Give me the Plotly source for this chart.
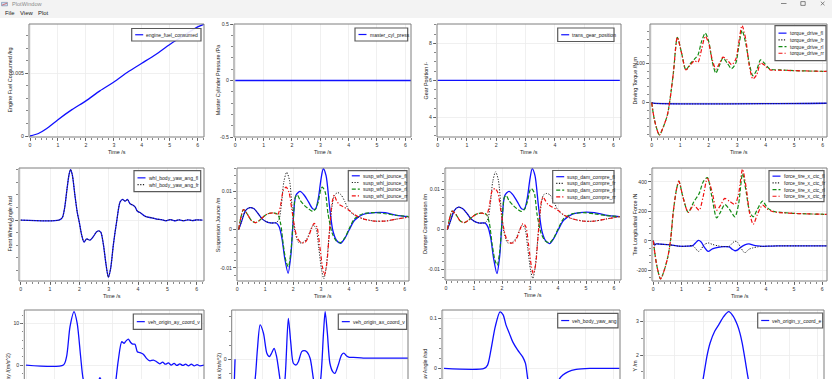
import plotly.graph_objects as go

W, H = 832, 379

# ---------------- data ----------------
time_ticks = [0, 1, 2, 3, 4, 5, 6]
time_tick_text = ["0", "1", "2", "3", "4", "5", "6"]

# P1 engine fuel
t_fuel = [0, 0.3, 0.6, 1.0, 1.5, 2.0, 2.5, 3.0, 3.5, 4.0, 4.5, 5.0, 5.5, 6.0, 6.22]
engine_fuel_consumed = [0, 0.0002, 0.0006, 0.0013, 0.0021, 0.0028, 0.0036, 0.0043, 0.0051,
                        0.0058, 0.0065, 0.0073, 0.0080, 0.0087, 0.0089]
# P2 / P3 constants
t_flat = [0, 6.22]
master_cyl_press = [0, 0]
trans_gear_position = [6, 6]

# P4 driving torque
t_torque = [0, 0.1, 0.27, 0.41, 0.55, 0.64, 0.76, 0.9, 1.05, 1.2, 1.35, 1.5, 1.62, 1.75, 1.88, 2.0,
            2.12, 2.25, 2.38, 2.5, 2.65, 2.8, 2.95, 3.05, 3.17, 3.3, 3.42, 3.55, 3.68, 3.82, 3.95,
            4.15, 4.5, 5.0, 5.5, 6.2]
torque_drive_rr = [0, -45, -82, -61, -31, 7, 75, 165, 125, 83, 95, 106, 102, 135, 168, 150, 110, 85,
                   100, 115, 108, 96, 110, 150, 195, 160, 95, 60, 70, 100, 95, 83, 82, 81, 80, 79]
torque_drive_rl = [0, -45, -82, -61, -31, 7, 75, 165, 125, 83, 98, 110, 120, 155, 176, 155, 105, 75,
                   95, 113, 100, 86, 100, 140, 183, 150, 100, 68, 82, 108, 100, 85, 83, 81, 80, 79]
t_torque_front = [0, 0.05, 6.2]
torque_drive_fl = [0, -1.5, -1.5]
torque_drive_fr = [0, -1.5, -1.5]

# P5 wheel angle
t_whl = [0, 1.3, 1.42, 1.5, 1.58, 1.65, 1.7, 1.76, 1.85, 1.93, 2.0, 2.08, 2.16, 2.25, 2.36, 2.48,
         2.58, 2.65, 2.73, 2.82, 2.91, 2.99, 3.07, 3.16, 3.27, 3.39, 3.48, 3.56, 3.64, 3.73, 3.82,
         3.9, 3.98, 4.07, 4.18, 4.3, 4.47, 4.64, 4.8, 4.95, 5.1, 5.25, 5.4, 5.55, 5.7, 5.85, 6.0, 6.2]
whl_body_yaw_ang_fl = [0, 0, 0.004, 0.02, 0.05, 0.073, 0.0805, 0.072, 0.039, 0.012, -0.004, -0.024,
                       -0.035, -0.03, -0.032, -0.026, -0.019, -0.017, -0.019, -0.039, -0.071, -0.091,
                       -0.076, -0.039, -0.003, 0.029, 0.033, 0.030, 0.033, 0.026, 0.024, 0.021, 0.014,
                       0.012, 0.008, 0.005, 0.0037, 0.0016, 0.0008, -0.001, 0.0008, -0.001, 0.0005,
                       -0.001, 0.0005, -0.0008, 0.0003, 0]
whl_body_yaw_ang_fr = [0, 0, 0.004, 0.02, 0.05, 0.073, 0.0805, 0.072, 0.039, 0.012, -0.004, -0.024,
                       -0.035, -0.03, -0.032, -0.026, -0.019, -0.017, -0.019, -0.039, -0.071, -0.091,
                       -0.076, -0.039, -0.003, 0.029, 0.033, 0.030, 0.033, 0.026, 0.024, 0.021, 0.014,
                       0.012, 0.008, 0.005, 0.0037, 0.0016, 0.0008, -0.001, 0.0008, -0.001, 0.0005,
                       -0.001, 0.0005, -0.0008, 0.0003, 0]

# P6 / P7 suspension
t_susp_fl = [0.05, 0.15, 0.3, 0.45, 0.6, 0.75, 0.9, 1.05, 1.2, 1.4, 1.5, 1.6, 1.7, 1.82, 1.92, 2.0,
             2.1, 2.25, 2.4, 2.55, 2.7, 2.8, 2.9, 3.0, 3.08, 3.18, 3.3, 3.42, 3.55, 3.7, 3.85, 4.0,
             4.2, 4.5, 4.9, 5.3, 5.7, 6.2]
t_susp_fr = [0.05, 0.15, 0.3, 0.45, 0.6, 0.75, 0.9, 1.05, 1.2, 1.4, 1.5, 1.58, 1.67, 1.77, 1.87,
             1.97, 2.07, 2.2, 2.35, 2.5, 2.62, 2.72, 2.82, 2.92, 3.02, 3.1, 3.18, 3.28, 3.38, 3.48,
             3.6, 3.72, 3.85, 4.0, 4.2, 4.5, 4.9, 5.3, 5.7, 6.2]
t_susp_rl = [0.05, 0.12, 0.22, 0.35, 0.5, 0.65, 0.8, 0.95, 1.1, 1.3, 1.45, 1.55, 1.65, 1.75, 1.83,
             1.92, 2.0, 2.08, 2.15, 2.25, 2.4, 2.55, 2.7, 2.8, 2.9, 3.0, 3.05, 3.15, 3.25, 3.4, 3.55,
             3.7, 3.85, 4.0, 4.2, 4.5, 4.9, 5.3, 5.7, 6.2]
t_susp_rr = [0.05, 0.12, 0.22, 0.35, 0.5, 0.65, 0.8, 0.95, 1.1, 1.3, 1.45, 1.55, 1.65, 1.75, 1.85,
             1.95, 2.05, 2.15, 2.28, 2.42, 2.55, 2.65, 2.75, 2.85, 2.95, 3.05, 3.12, 3.2, 3.3, 3.4,
             3.47, 3.55, 3.65, 3.8, 4.0, 4.2, 4.5, 4.9, 5.3, 5.7, 6.2]
susp_whl_jounce_fl = [0, 0.002, 0.005, 0.0057, 0.0054, 0.0041, 0.0027, 0.002, 0.0017, 0.0017, 0.0007,
                      -0.0023, -0.0075, -0.0114, -0.0066, 0.002, 0.0089, 0.0099, 0.0089, 0.0072,
                      0.0054, 0.0053, 0.008, 0.0132, 0.0158, 0.014, 0.0063, -0.0002, -0.0028,
                      -0.0036, -0.0023, -0.0002, 0.0024, 0.0039, 0.0044, 0.0044, 0.0037, 0.0033]
susp_whl_jounce_fr = [0, 0.002, 0.005, 0.0057, 0.0054, 0.0041, 0.0027, 0.002, 0.0017, 0.0018, 0.0028,
                      0.0065, 0.0125, 0.0149, 0.0128, 0.0054, -0.0006, -0.0034, -0.0034, -0.0023,
                      -0.0002, 0.0011, 0.0003, -0.0049, -0.0105, -0.0128, -0.0101, -0.0023, 0.0054,
                      0.0089, 0.0096, 0.009, 0.0073, 0.005, 0.0037, 0.0028, 0.0022, 0.0022, 0.0027,
                      0.0033]
susp_whl_jounce_rl = [0, 0.0028, 0.0052, 0.0041, 0.0024, 0.0018, 0.0024, 0.0034, 0.0041, 0.0043,
                      0.0039, 0.0016, -0.0041, -0.0084, -0.0097, -0.0058, 0.002, 0.0084, 0.009, 0.0076,
                      0.0063, 0.0054, 0.0047, 0.0053, 0.0072, 0.0106, 0.011, 0.0097, 0.0041, -0.001,
                      -0.003, -0.0034, -0.0022, 0.0001, 0.0028, 0.0041, 0.0044, 0.0041, 0.0037, 0.0033]
susp_whl_jounce_rr = [0, 0.0028, 0.0052, 0.0041, 0.0024, 0.0018, 0.0024, 0.0034, 0.0041, 0.0043,
                      0.0039, 0.0063, 0.0102, 0.011, 0.0097, 0.0054, 0.0007, -0.0022, -0.0034,
                      -0.0034, -0.0019, 0.0001, 0.0016, 0.0007, -0.0041, -0.0097, -0.0118, -0.0092,
                      -0.0006, 0.0072, 0.0089, 0.0076, 0.0065, 0.0059, 0.005, 0.0039, 0.0028, 0.0022,
                      0.0022, 0.0027, 0.0033]
susp_dam_compre_fl = [0, 0.0019, 0.0048, 0.0056, 0.0052, 0.004, 0.0026, 0.0019, 0.0016, 0.0016, 0.0006,
                      -0.0022, -0.0072, -0.011, -0.0064, 0.0019, 0.0085, 0.0095, 0.0086, 0.0069,
                      0.0052, 0.0051, 0.0077, 0.0127, 0.0152, 0.0134, 0.006, -0.0002, -0.0027,
                      -0.0035, -0.0022, -0.0002, 0.0023, 0.0038, 0.0043, 0.0042, 0.0036, 0.0032]
susp_dam_compre_fr = [0, 0.0019, 0.0048, 0.0056, 0.0052, 0.004, 0.0026, 0.0019, 0.0016, 0.0017, 0.0027,
                      0.0062, 0.012, 0.0144, 0.0123, 0.0052, -0.0006, -0.0033, -0.0033, -0.0022,
                      -0.0002, 0.0011, 0.0003, -0.0047, -0.0101, -0.0122, -0.0097, -0.0022, 0.0052,
                      0.0086, 0.009, 0.0086, 0.007, 0.0048, 0.0036, 0.0027, 0.0021, 0.0021, 0.0026,
                      0.0032]
susp_dam_compre_rl = [0, 0.0025, 0.0046, 0.0038, 0.0022, 0.0017, 0.0023, 0.0032, 0.0039, 0.0041,
                      0.0037, 0.0015, -0.0038, -0.0077, -0.0089, -0.0054, 0.0019, 0.0079, 0.0085,
                      0.0072, 0.006, 0.0051, 0.0045, 0.005, 0.0068, 0.0098, 0.0102, 0.0092, 0.0039,
                      -0.001, -0.0029, -0.0033, -0.0021, 0.0001, 0.0027, 0.0039, 0.0042, 0.0039,
                      0.0035, 0.0032]
susp_dam_compre_rr = [0, 0.0025, 0.0046, 0.0038, 0.0022, 0.0017, 0.0023, 0.0032, 0.0039, 0.0041,
                      0.0037, 0.006, 0.0097, 0.0102, 0.0092, 0.0051, 0.0007, -0.0021, -0.0033,
                      -0.0033, -0.0018, 0.0001, 0.0015, 0.0007, -0.0039, -0.0092, -0.011, -0.0088,
                      -0.0006, 0.0068, 0.0081, 0.0072, 0.0062, 0.0056, 0.0048, 0.0037, 0.0027, 0.0021,
                      0.0021, 0.0026, 0.0032]

# P8 longitudinal tire force
t_force_rear = [0, 0.12, 0.26, 0.41, 0.53, 0.62, 0.71, 0.83, 0.91, 1.05, 1.24, 1.44, 1.63, 1.77, 1.92,
                2.08, 2.25, 2.4, 2.54, 2.7, 2.9, 3.03, 3.17, 3.3, 3.42, 3.55, 3.7, 3.88, 4.05, 4.26,
                4.6, 5.0, 5.5, 6.2]
force_tire_x_ctc_rr = [0, -165, -260, -188, -97, 16, 197, 355, 405, 300, 193, 242, 208, 300, 424, 340,
                       208, 245, 288, 270, 247, 320, 487, 360, 190, 111, 180, 242, 215, 197, 190, 186,
                       183, 179]
force_tire_x_ctc_rl = [0, -165, -260, -188, -97, 16, 197, 355, 405, 300, 193, 265, 322, 400, 430, 300,
                       156, 200, 247, 215, 163, 250, 457, 330, 200, 163, 215, 270, 225, 200, 192, 186,
                       183, 179]
t_force_front = [0, 0.05, 0.1, 0.3, 0.6, 0.9, 1.2, 1.4, 1.5, 1.6, 1.7, 1.8, 1.95, 2.1, 2.3, 2.5, 2.7,
                 2.8, 2.9, 3.0, 3.1, 3.25, 3.4, 3.55, 3.7, 3.9, 4.2, 4.6, 5.0, 5.5, 6.2]
force_tire_x_ctc_fl = [0, -30, -22, -24, -28, -37, -37, -33, -15, 2, -8, -40, -72, -55, -45, -40, -42,
                       -58, -68, -62, -45, -28, -22, -30, -35, -38, -36, -35, -35, -35, -35]
force_tire_x_ctc_fr = [0, -30, -22, -24, -28, -37, -37, -33, -52, -73, -58, -28, -15, -25, -35, -40,
                       -38, -18, -3, -12, -45, -82, -58, -48, -42, -38, -36, -35, -35, -35, -35]

# P9 lateral acceleration
t_ay = [0, 1.3, 1.41, 1.53, 1.67, 1.78, 1.9, 1.99, 2.08, 2.2, 2.35, 2.5, 2.57, 2.65, 2.75, 2.85, 2.95,
        3.03, 3.13, 3.21, 3.33, 3.41, 3.48, 3.56, 3.64, 3.71, 3.79, 3.87, 3.96, 4.08, 4.19, 4.31,
        4.43, 4.54, 4.65, 4.75, 4.85, 4.95, 5.05, 5.15, 5.25, 5.35, 5.45, 5.55, 5.65, 5.75, 5.85,
        5.95, 6.05, 6.2]
veh_origin_ay_coord_v = [0, 0, 2, 9.2, 12.8, 10, 2, -3.4, -4.8, -5.5, -5, -4.2, -3, -4.5, -8.5, -12,
                         -12.8, -9, -3.4, 1.2, 5.6, 5.2, 5.8, 6.2, 5.4, 5.0, 5.0, 3.2, 3.0, 2.6, 1.6,
                         1.0, 1.2, 0.8, 0.3, 0.7, 0.2, 0.5, 0.0, 0.4, -0.1, 0.3, -0.1, 0.2, -0.2, 0.2,
                         -0.2, 0.1, -0.2, 0]
# P10 longitudinal acceleration
t_ax = [0, 0.02, 0.3, 0.6, 0.72, 0.8, 0.9, 1.02, 1.14, 1.23, 1.31, 1.4, 1.49, 1.61, 1.7, 1.79, 1.91,
        2.0, 2.09, 2.19, 2.27, 2.39, 2.47, 2.57, 2.69, 2.81, 2.93, 3.07, 3.17, 3.23, 3.31, 3.4, 3.5,
        3.58, 3.7, 3.82, 3.9, 4.0, 4.1, 4.24, 4.6, 5.2, 6.2]
veh_origin_ax_coord_v = [0, -4.0, -3.2, -2.6, -1.4, 0.66, 2.43, 1.84, 0.43, 0.19, 0.43, 0.78, 0.19,
                         -1.4, -2.4, -1.4, 2.9, 1.13, -0.28, -0.4, -0.17, 0.54, 0.61, 0.54, 0.07,
                         -1.4, -2.8, -1.4, 1.84, 3.38, 1.84, -0.28, -0.87, -1.0, -0.4, 0.31, 0.43,
                         0.24, 0.14, 0.14, 0.09, 0.09, 0.09]
# P11 yaw angle
t_yaw = [0, 1.42, 1.54, 1.66, 1.81, 1.98, 2.09, 2.19, 2.31, 2.43, 2.6, 2.78, 2.88, 2.96, 3.1, 3.3,
         3.5, 3.7, 3.9, 4.08, 4.2, 4.38, 4.67, 5.15, 6.2]
veh_body_yaw_ang = [0, 0, 0.0067, 0.037, 0.083, 0.113, 0.107, 0.087, 0.07, 0.053, 0.037, 0.023, 0.01,
                    -0.021, -0.06, -0.09, -0.098, -0.085, -0.05, -0.021, -0.013, -0.0067, -0.002, 0, 0]
# P12 lateral position
t_y = [0, 1.4, 1.6, 1.8, 2.0, 2.13, 2.24, 2.4, 2.54, 2.72, 2.89, 3.05, 3.19, 3.28, 3.36, 3.48, 3.57,
       3.75, 4.0, 4.3, 4.7, 5.2, 6.2]
veh_origin_y_coord_e = [0, 0, 0.1, 0.5, 1.31, 1.97, 2.36, 2.71, 2.9, 3.15, 3.29, 3.15, 2.9, 2.66,
                        2.36, 1.77, 1.31, 0.7, 0.25, 0.08, 0.02, 0, 0]

# ---------------- styling ----------------
FONT = "Liberation Sans"
STY = {
    "fl": dict(color="#1010ff", dash="solid", width=1.3),
    "fr": dict(color="#222222", dash="1.2px,1.5px", width=1.0),
    "rl": dict(color="#128a12", dash="4px,2px", width=1.2),
    "rr": dict(color="#f01010", dash="4px,2px,1.2px,2px", width=1.2),
}
GRID = "#ececec"
FRAME = "#7e7e7e"
TICKC = "#555555"

PANELS = [
    dict(frame=(29, 204, 24, 137), xr=(-0.036, 6.225), yr=(-0.00008, 0.00893),
         yt=[0, 0.005], ytt=["0", "0.005"], ym=0.001, ytitle="Engine Fuel Consumed /kg", ytx=9,
         leg=(131.7, 201, 28.5, 41),
         series=[(t_fuel, engine_fuel_consumed, "engine_fuel_consumed", "fl")]),
    dict(frame=(234, 411, 24, 137), xr=(-0.046, 6.2), yr=(-0.5, 0.5),
         yt=[-0.5, 0, 0.5], ytt=["-0.5", "0", "0.5"], ym=0.1, ytitle="Master Cylinder Pressure /Pa",
         ytx=217.7, leg=(355, 407.7, 28, 41),
         series=[(t_flat, master_cyl_press, "master_cyl_press", "fl")]),
    dict(frame=(437, 621, 24, 137), xr=(-0.024, 6.26), yr=(2.94, 9.04),
         yt=[4, 6, 8], ytt=["4", "6", "8"], ym=0.5, ytitle="Gear Position /-", ytx=425,
         leg=(557.7, 614, 28, 41.5),
         series=[(t_flat, trans_gear_position, "trans_gear_position", "fl")]),
    dict(frame=(650, 827, 24, 137), xr=(-0.06, 6.15), yr=(-87, 199),
         yt=[0, 100], ytt=["0", "100"], ym=20, ytitle="Driving Torque /N.m", ytx=634,
         leg=(775, 826, 25.7, 60.7),
         series=[(t_torque_front, torque_drive_fl, "torque_drive_fl", "fl"),
                 (t_torque_front, torque_drive_fr, "torque_drive_fr", "fr"),
                 (t_torque, torque_drive_rl, "torque_drive_rl", "rl"),
                 (t_torque, torque_drive_rr, "torque_drive_rr", "rr")]),
    dict(frame=(19, 204, 168, 281), xr=(-0.058, 6.25), yr=(-0.097, 0.083),
         yt=[0], ytt=["0"], ym=0.02, ytitle="Front Wheel Angle /rad", ytx=9,
         leg=(134, 200.7, 170.7, 191.7),
         series=[(t_whl, whl_body_yaw_ang_fl, "whl_body_yaw_ang_fl", "fl"),
                 (t_whl, whl_body_yaw_ang_fr, "whl_body_yaw_ang_fr", "fr")]),
    dict(frame=(237, 409, 168, 281), xr=(-0.01, 6.15), yr=(-0.0134, 0.016),
         yt=[-0.01, 0, 0.01], ytt=["-0.01", "0", "0.01"], ym=0.002, ytitle="Suspension Jounce /m",
         ytx=217.7, leg=(348.3, 407, 170.7, 201),
         series=[(t_susp_fl, susp_whl_jounce_fl, "susp_whl_jounce_fl", "fl"),
                 (t_susp_fr, susp_whl_jounce_fr, "susp_whl_jounce_fr", "fr"),
                 (t_susp_rl, susp_whl_jounce_rl, "susp_whl_jounce_rl", "rl"),
                 (t_susp_rr, susp_whl_jounce_rr, "susp_whl_jounce_rr", "rr")]),
    dict(frame=(445, 621, 168, 280), xr=(-0.036, 6.25), yr=(-0.0126, 0.01535),
         yt=[-0.01, 0, 0.01], ytt=["-0.01", "0", "0.01"], ym=0.002, ytitle="Damper Compression /m",
         ytx=425, leg=(552.7, 614, 170.5, 203),
         series=[(t_susp_fl, susp_dam_compre_fl, "susp_dam_compre_fl", "fl"),
                 (t_susp_fr, susp_dam_compre_fr, "susp_dam_compre_fr", "fr"),
                 (t_susp_rl, susp_dam_compre_rl, "susp_dam_compre_rl", "rl"),
                 (t_susp_rr, susp_dam_compre_rr, "susp_dam_compre_rr", "rr")]),
    dict(frame=(652, 827, 168, 281), xr=(-0.046, 6.17), yr=(-274, 495),
         yt=[-200, 0, 200, 400], ytt=["-200", "0", "200", "400"], ym=50,
         ytitle="Tire Longitudinal Force /N", ytx=634, leg=(769, 824, 170.7, 201.7),
         series=[(t_force_front, force_tire_x_ctc_fl, "force_tire_x_ctc_fl", "fl"),
                 (t_force_front, force_tire_x_ctc_fr, "force_tire_x_ctc_fr", "fr"),
                 (t_force_rear, force_tire_x_ctc_rl, "force_tire_x_ctc_rl", "rl"),
                 (t_force_rear, force_tire_x_ctc_rr, "force_tire_x_ctc_rr", "rr")]),
    dict(frame=(24.3, 204, 310, 423), xr=(-0.06, 6.19), yr=(-13.9, 13.2),
         yt=[-10, 0, 10], ytt=["-10", "0", "10"], ym=2, ytitle="ay /(m/s^2)", ytx=7.3,
         leg=(133.3, 201.7, 314, 329.3),
         series=[(t_ay, veh_origin_ay_coord_v, "veh_origin_ay_coord_v", "fl")]),
    dict(frame=(231.7, 408, 310, 423), xr=(-0.12, 6.2), yr=(-4.51, 3.49),
         yt=[0], ytt=["0"], ym=1, ytitle="ax /(m/s^2)", ytx=218,
         leg=(338.3, 406.7, 314, 329.3),
         series=[(t_ax, veh_origin_ax_coord_v, "veh_origin_ax_coord_v", "fl")]),
    dict(frame=(442, 620, 310, 423), xr=(-0.07, 6.22), yr=(-0.109, 0.1167),
         yt=[-0.1, 0, 0.1], ytt=["-0.1", "0", "0.1"], ym=0.02, ytitle="Yaw Angle /rad", ytx=424,
         leg=(557.7, 618, 313.3, 327.8),
         series=[(t_yaw, veh_body_yaw_ang, "veh_body_yaw_ang", "fl")]),
    dict(frame=(644, 824, 310, 423), xr=(-0.07, 6.22), yr=(-0.02, 3.34),
         yt=[0, 1, 2, 3], ytt=["0", "1", "2", "3"], ym=0.5, ytitle="Y /m", ytx=634,
         leg=(757.7, 822.7, 313, 328),
         series=[(t_y, veh_origin_y_coord_e, "veh_origin_y_coord_e", "fl")]),
]


def X(p):
    return p / W


def Y(p):
    return 1 - p / H


fig = go.Figure()
layout = dict(width=W, height=H, margin=dict(l=0, r=0, t=0, b=0), template="none",
              paper_bgcolor="white", plot_bgcolor="white", showlegend=False,
              font=dict(family=FONT, size=5.2, color="#333333"))
shapes = []
annotations = []

# window chrome: title bar + menu bar
shapes.append(dict(type="rect", xref="paper", yref="paper", x0=0, x1=1, y0=Y(18), y1=1,
                   line=dict(width=0), fillcolor="#f3f3f3", layer="above"))
shapes.append(dict(type="rect", xref="paper", yref="paper", x0=X(1.5), x1=X(7.5), y0=Y(5.8), y1=Y(2.4),
                   line=dict(width=0.6, color="#6f86a8"), fillcolor="#cfdcef", layer="above"))
shapes.append(dict(type="line", xref="paper", yref="paper", x0=X(2), x1=X(7), y0=Y(5.2), y1=Y(3.2),
                   line=dict(width=0.7, color="#d04040"), layer="above"))
annotations.append(dict(text="PlotWindow", x=X(9.5), y=Y(4.3), xref="paper", yref="paper",
                        xanchor="left", yanchor="middle", showarrow=False,
                        font=dict(family=FONT, size=5.6, color="#8c8c8c")))
for label, xpos in [("File", 3.3), ("View", 18), ("Plot", 36)]:
    annotations.append(dict(text=label, x=X(xpos), y=Y(13.4), xref="paper", yref="paper",
                            xanchor="left", yanchor="middle", showarrow=False,
                            font=dict(family=FONT, size=5.9, color="#1a1a1a")))
# window controls
shapes.append(dict(type="line", xref="paper", yref="paper", x0=X(781), x1=X(786.5), y0=Y(3.5), y1=Y(3.5),
                   line=dict(width=0.7, color="#555"), layer="above"))
shapes.append(dict(type="rect", xref="paper", yref="paper", x0=X(800.8), x1=X(805.2), y0=Y(5.4), y1=Y(1.6),
                   line=dict(width=0.7, color="#555"), layer="above"))
shapes.append(dict(type="line", xref="paper", yref="paper", x0=X(820.8), x1=X(824.5), y0=Y(1.7), y1=Y(5.3),
                   line=dict(width=0.7, color="#555"), layer="above"))
shapes.append(dict(type="line", xref="paper", yref="paper", x0=X(820.8), x1=X(824.5), y0=Y(5.3), y1=Y(1.7),
                   line=dict(width=0.7, color="#555"), layer="above"))

for i, p in enumerate(PANELS, start=1):
    x0, x1, y0, y1 = p["frame"]
    ymin, ymax = p["yr"]
    clipped = y1 > H
    if clipped:
        vis_min = ymax - (ymax - ymin) * (H - y0) / (y1 - y0)
        dom_y = [0, Y(y0)]
        yrange = [vis_min, ymax]
    else:
        dom_y = [Y(y1), Y(y0)]
        yrange = [ymin, ymax]
    sfx = "" if i == 1 else str(i)
    layout["xaxis" + sfx] = dict(
        domain=[X(x0), X(x1)], range=list(p["xr"]), anchor="y" + sfx,
        tickmode="array", tickvals=time_ticks, ticktext=time_tick_text,
        ticks="" if clipped else "outside", ticklen=3, tickwidth=0.8, tickcolor=TICKC,
        showticklabels=not clipped, tickfont=dict(family=FONT, size=5.2, color="#333"),
        showgrid=True, gridcolor=GRID, gridwidth=0.8, zeroline=False, showline=False,
        fixedrange=True,
        minor=dict(tickmode="linear", tick0=0, dtick=0.2, ticks="" if clipped else "outside",
                   ticklen=1.6, tickwidth=0.7, tickcolor=TICKC, showgrid=False))
    layout["yaxis" + sfx] = dict(
        domain=dom_y, range=yrange, anchor="x" + sfx,
        tickmode="array", tickvals=p["yt"], ticktext=p["ytt"],
        ticks="outside", ticklen=3, tickwidth=0.8, tickcolor=TICKC,
        tickfont=dict(family=FONT, size=5.2, color="#333"),
        showgrid=True, gridcolor=GRID, gridwidth=0.8, zeroline=False, showline=False,
        fixedrange=True,
        minor=dict(tickmode="linear", tick0=0, dtick=p["ym"], ticks="outside",
                   ticklen=1.6, tickwidth=0.7, tickcolor=TICKC, showgrid=False))

    for (tx, ty, name, key) in p["series"]:
        st = STY[key]
        fig.add_trace(go.Scatter(x=tx, y=ty, name=name, mode="lines",
                                 xaxis="x" + sfx, yaxis="y" + sfx, hoverinfo="skip",
                                 line=dict(color=st["color"], dash=st["dash"], width=st["width"],
                                           shape="spline", smoothing=0.75)))

    # frame
    shapes.append(dict(type="rect", xref="paper", yref="paper", x0=X(x0), x1=X(x1),
                       y0=Y(y1), y1=Y(y0), line=dict(color=FRAME, width=1), layer="above"))
    # axis titles
    if not clipped:
        annotations.append(dict(text="Time /s", x=X((x0 + x1) / 2), y=Y(y1 + 15), xref="paper",
                                yref="paper", xanchor="center", yanchor="middle", showarrow=False,
                                font=dict(family=FONT, size=5.4, color="#222")))
    annotations.append(dict(text=p["ytitle"], x=X(p["ytx"]), y=Y((y0 + y1) / 2), xref="paper",
                            yref="paper", xanchor="center", yanchor="middle", showarrow=False,
                            textangle=-90, font=dict(family=FONT, size=5.4, color="#222")))
    # legend box
    lx0, lx1, ly0, ly1 = p["leg"]
    shapes.append(dict(type="rect", xref="paper", yref="paper", x0=X(lx0), x1=X(lx1),
                       y0=Y(ly1), y1=Y(ly0), line=dict(color="#5a5a5a", width=1.2),
                       fillcolor="rgba(255,255,255,0.9)", layer="above"))
    n = len(p["series"])
    mid = (ly0 + ly1) / 2
    for k, (tx, ty, name, key) in enumerate(p["series"]):
        cy = mid + (k - (n - 1) / 2) * 6.7
        st = STY[key]
        shapes.append(dict(type="line", xref="paper", yref="paper", x0=X(lx0 + 3.5), x1=X(lx0 + 11.5),
                           y0=Y(cy), y1=Y(cy), line=dict(color=st["color"], width=1.2, dash=st["dash"]),
                           layer="above"))
        annotations.append(dict(text=name, x=X(lx0 + 12.5), y=Y(cy), xref="paper", yref="paper",
                                xanchor="left", yanchor="middle", showarrow=False,
                                font=dict(family=FONT, size=5.0, color="#1a1a1a")))

layout["shapes"] = shapes
layout["annotations"] = annotations
fig.update_layout(**layout)
fig.write_html("out.html", config={"displayModeBar": False, "staticPlot": True},
               post_script="document.body.style.margin='0px';document.body.style.padding='0px';")
